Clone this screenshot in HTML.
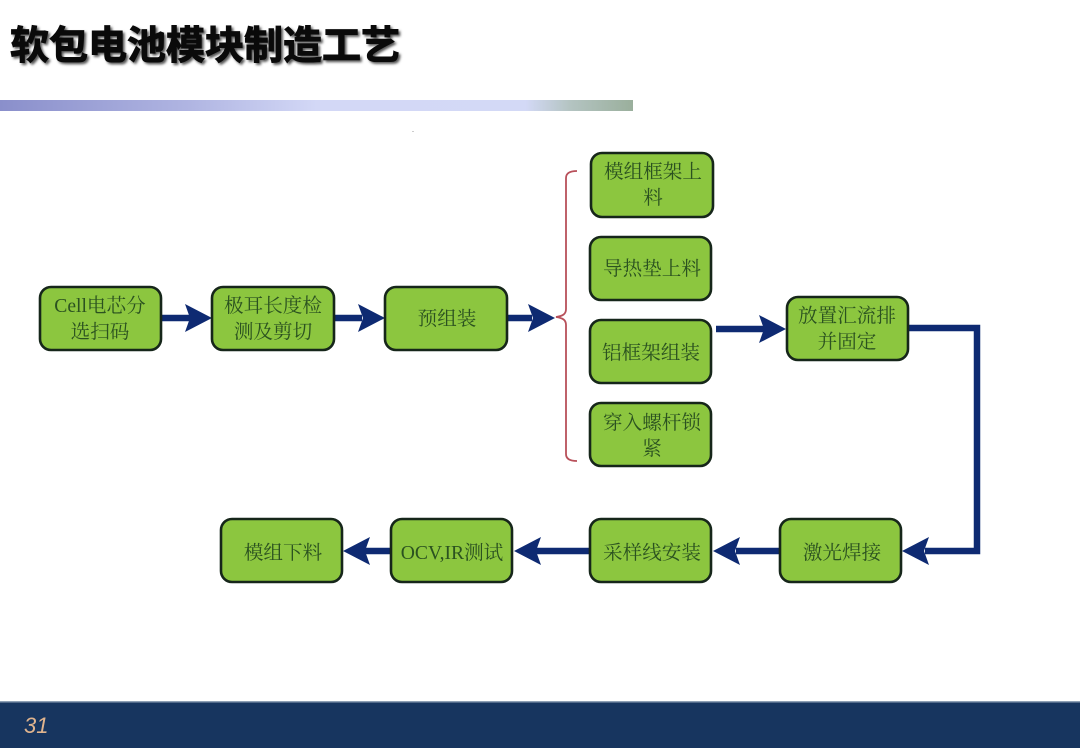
<!DOCTYPE html>
<html><head><meta charset="utf-8">
<style>
html,body{margin:0;padding:0;background:#fff;}
#p{position:relative;width:1080px;height:748px;overflow:hidden;background:#fff;}
svg{position:absolute;left:0;top:0;}
.n{font-family:"Liberation Serif","Noto Serif CJK SC",serif;font-size:19.6px;fill:#2b5220;text-anchor:middle;}
.t{font-family:"Liberation Sans","Noto Sans CJK SC",sans-serif;font-size:39px;font-weight:700;}
.b{fill:#8cc63f;stroke:#16261a;stroke-width:2.6;}
</style></head><body><div id="p">
<svg width="1080" height="748" viewBox="0 0 1080 748" xmlns="http://www.w3.org/2000/svg">
<defs>
<linearGradient id="g" x1="0" x2="1" y1="0" y2="0">
<stop offset="0" stop-color="#8a8fcb"/><stop offset="0.3" stop-color="#b0b5e2"/><stop offset="0.5" stop-color="#d3d8f6"/><stop offset="0.83" stop-color="#d3d9f6"/><stop offset="0.9" stop-color="#b4c4c2"/><stop offset="1" stop-color="#9aaf9c"/>
</linearGradient>
<filter id="s" x="-5%" y="-20%" width="110%" height="140%"><feGaussianBlur stdDeviation="1.2"/></filter>
</defs>
<text class="t" x="12" y="61" fill="#555" stroke="#555" stroke-width="0.8" filter="url(#s)">软包电池模块制造工艺</text>
<text class="t" x="10" y="59" fill="#0a0a0a" stroke="#0a0a0a" stroke-width="1">软包电池模块制造工艺</text>
<rect x="0" y="100" width="633" height="11" fill="url(#g)"/>
<rect x="412" y="131" width="2" height="1" fill="#ccc"/>

<!-- connectors -->
<g fill="none" stroke="#0e2a72" stroke-width="6.5">
<path d="M160 318H190"/>
<path d="M334 318H362"/>
<path d="M507 318H532"/>
<path d="M716 329H764"/>
<path d="M908 328H977V551H925"/>
<path d="M780 551H736"/>
<path d="M590 551H536"/>
<path d="M390 551H364"/>
</g>
<g fill="#0e2a72">
<path d="M212 318L185 304L190 318L185 332Z"/>
<path d="M385 318L358 304L363 318L358 332Z"/>
<path d="M555 318L528 304L533 318L528 332Z"/>
<path d="M786 329L759 315L764 329L759 343Z"/>
<path d="M902 551L929 537L924 551L929 565Z"/>
<path d="M713 551L740 537L735 551L740 565Z"/>
<path d="M514 551L541 537L536 551L541 565Z"/>
<path d="M343 551L370 537L365 551L370 565Z"/>
</g>

<!-- brace -->
<path d="M577 171C570 171 566 173 566 178V309C566 314 563 316 556 317C563 318 566 320 566 325V454C566 459 570 461 577 461" fill="none" stroke="#b8505a" stroke-width="1.8"/>

<!-- boxes -->
<rect class="b" x="40" y="287" width="121" height="63" rx="11"/>
<rect class="b" x="212" y="287" width="122" height="63" rx="11"/>
<rect class="b" x="385" y="287" width="122" height="63" rx="11"/>
<rect class="b" x="591" y="153" width="122" height="64" rx="11"/>
<rect class="b" x="590" y="237" width="121" height="63" rx="11"/>
<rect class="b" x="590" y="320" width="121" height="63" rx="11"/>
<rect class="b" x="590" y="403" width="121" height="63" rx="11"/>
<rect class="b" x="787" y="297" width="121" height="63" rx="11"/>
<rect class="b" x="780" y="519" width="121" height="63" rx="11"/>
<rect class="b" x="590" y="519" width="121" height="63" rx="11"/>
<rect class="b" x="391" y="519" width="121" height="63" rx="11"/>
<rect class="b" x="221" y="519" width="121" height="63" rx="11"/>

<!-- labels -->
<text class="n" x="100" y="312">Cell电芯分</text>
<text class="n" x="100" y="338">选扫码</text>
<text class="n" x="273" y="312">极耳长度检</text>
<text class="n" x="273" y="338">测及剪切</text>
<text class="n" x="447" y="325">预组装</text>
<text class="n" x="653" y="178">模组框架上</text>
<text class="n" x="653" y="204">料</text>
<text class="n" x="652" y="275">导热垫上料</text>
<text class="n" x="651" y="359">铝框架组装</text>
<text class="n" x="652" y="429">穿入螺杆锁</text>
<text class="n" x="652" y="455">紧</text>
<text class="n" x="847" y="322">放置汇流排</text>
<text class="n" x="847" y="348">并固定</text>
<text class="n" x="842" y="559">激光焊接</text>
<text class="n" x="652" y="559">采样线安装</text>
<text class="n" x="452" y="559">OCV,IR测试</text>
<text class="n" x="283" y="559">模组下料</text>

<!-- footer -->
<rect x="0" y="702" width="1080" height="46" fill="#17355f"/>
<rect x="0" y="701" width="1080" height="1.5" fill="#8ea0b5"/>
<text x="24" y="733" font-family="Liberation Sans, sans-serif" font-style="italic" font-size="22" fill="#e0b48e">31</text>
</svg>
</div></body></html>
